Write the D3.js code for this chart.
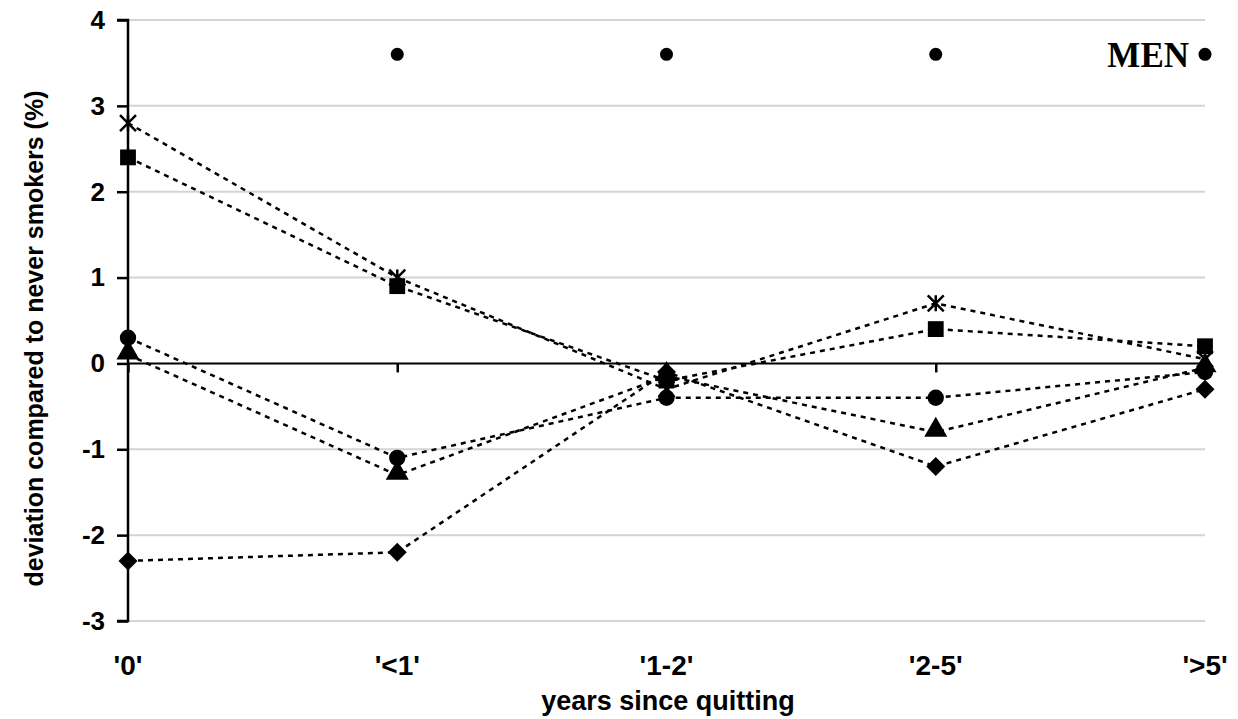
<!DOCTYPE html>
<html>
<head>
<meta charset="utf-8">
<script src="https://cdn.jsdelivr.net/npm/d3@7"></script>
<style>
  body { margin: 0; background: #fff; }
  svg { display: block; }
</style>
</head>
<body>
<div id="chart"></div>
<script>
// categories and series
const categories = ["'0'", "'<1'", "'1-2'", "'2-5'", "'>5'"];
const yTicks = [-3, -2, -1, 0, 1, 2, 3, 4];

const starValues     = [2.8, 1.0, -0.3, 0.7, 0.05];
const squareValues   = [2.4, 0.9, -0.2, 0.4, 0.2];
const circleValues   = [0.3, -1.1, -0.4, -0.4, -0.1];
const triangleValues = [0.1, -1.3, -0.15, -0.8, -0.05];
const diamondValues  = [-2.3, -2.2, -0.1, -1.2, -0.3];
// legend-like dots along the top ("MEN")
const menValues      = [null, 3.6, 3.6, 3.6, 3.6];

const series = [
    {name: "star", values: starValues},
    {name: "square", values: squareValues},
    {name: "circle", values: circleValues},
    {name: "triangle", values: triangleValues},
    {name: "diamond", values: diamondValues}
];

const width = 1238, height = 719;
const margin = {top: 20, right: 33, bottom: 98, left: 128};

const svg = d3.select("#chart").append("svg")
    .attr("width", width)
    .attr("height", height);

const x = d3.scalePoint()
    .domain(categories)
    .range([margin.left, width - margin.right]);

const y = d3.scaleLinear()
    .domain([-3, 4])
    .range([height - margin.bottom, margin.top]);

// gridlines
svg.append("g")
    .selectAll("line")
    .data(yTicks.filter(d => d !== 0))
    .enter().append("line")
    .attr("x1", margin.left)
    .attr("x2", width - margin.right)
    .attr("y1", d => y(d))
    .attr("y2", d => y(d))
    .attr("stroke", "#d4d4d4")
    .attr("stroke-width", 2);

// y axis
const yAxis = svg.append("g")
    .attr("transform", `translate(${margin.left},0)`)
    .call(d3.axisLeft(y).tickValues(yTicks).tickSize(11).tickPadding(12).tickFormat(d => String(d)));
yAxis.select(".domain").attr("stroke", "#000").attr("stroke-width", 2.5)
    .attr("d", `M-11,${y(4)}H0V${y(-3)}H-11`);
yAxis.selectAll(".tick line").attr("stroke", "#000").attr("stroke-width", 2.5);
yAxis.selectAll(".tick text")
    .attr("font-family", "Liberation Sans, Arial, sans-serif")
    .attr("font-weight", "bold")
    .attr("font-size", 26)
    .attr("fill", "#000");

// x axis along zero
const xAxis = svg.append("g")
    .attr("transform", `translate(0,${y(0)})`)
    .call(d3.axisBottom(x).tickSize(9).tickFormat(""));
xAxis.select(".domain").attr("stroke", "#000").attr("stroke-width", 2)
    .attr("d", `M${margin.left},0H${width - margin.right}`);
xAxis.selectAll(".tick line").attr("stroke", "#000").attr("stroke-width", 2.5);

// x category labels at bottom
svg.append("g")
    .selectAll("text")
    .data(categories)
    .enter().append("text")
    .attr("x", d => x(d))
    .attr("y", 675)
    .attr("text-anchor", "middle")
    .attr("font-family", "Liberation Sans, Arial, sans-serif")
    .attr("font-weight", "bold")
    .attr("font-size", 28)
    .text(d => d);

// axis titles
svg.append("text")
    .attr("x", 668)
    .attr("y", 710)
    .attr("text-anchor", "middle")
    .attr("font-family", "Liberation Sans, Arial, sans-serif")
    .attr("font-weight", "bold")
    .attr("font-size", 27)
    .text("years since quitting");

svg.append("text")
    .attr("transform", `translate(43,${(y(4) + y(-3)) / 2 + 18}) rotate(-90)`)
    .attr("text-anchor", "middle")
    .attr("font-family", "Liberation Sans, Arial, sans-serif")
    .attr("font-weight", "bold")
    .attr("font-size", 25)
    .text("deviation compared to never smokers (%)");

// dashed lines
const line = d3.line()
    .defined(d => d.v != null)
    .x(d => x(d.c))
    .y(d => y(d.v));

series.forEach(s => {
    svg.append("path")
        .datum(s.values.map((v, i) => ({c: categories[i], v: v})))
        .attr("fill", "none")
        .attr("stroke", "#000")
        .attr("stroke-width", 2.5)
        .attr("stroke-dasharray", "5,5")
        .attr("d", line);
});

// markers
const symbols = {
    square: d3.symbol().type(d3.symbolSquare).size(250),
    circle: d3.symbol().type(d3.symbolCircle).size(210),
    triangle: d3.symbol().type(d3.symbolTriangle).size(230)
};

series.forEach(s => {
    const g = svg.append("g");
    s.values.forEach((v, i) => {
        const cx = x(categories[i]), cy = y(v);
        if (s.name === "star") {
            const r = 8;
            g.append("path")
                .attr("d", `M${cx - r},${cy - r}L${cx + r},${cy + r}M${cx - r},${cy + r}L${cx + r},${cy - r}M${cx},${cy - r}V${cy + r}`)
                .attr("stroke", "#000")
                .attr("stroke-width", 2.5)
                .attr("fill", "none");
        } else if (s.name === "diamond") {
            const r = 9.5;
            g.append("path")
                .attr("d", `M${cx},${cy - r}L${cx + r},${cy}L${cx},${cy + r}L${cx - r},${cy}Z`)
                .attr("fill", "#000");
        } else {
            g.append("path")
                .attr("d", symbols[s.name]())
                .attr("transform", `translate(${cx},${cy})${s.name === "triangle" ? " translate(0,-2)" : ""}`)
                .attr("fill", "#000");
        }
    });
});

// MEN dots
svg.append("g")
    .selectAll("circle")
    .data(menValues.map((v, i) => ({c: categories[i], v: v})).filter(d => d.v != null))
    .enter().append("circle")
    .attr("cx", d => x(d.c))
    .attr("cy", d => y(d.v))
    .attr("r", 6.5)
    .attr("fill", "#000");

svg.append("text")
    .attr("x", x(categories[4]) - 16)
    .attr("y", y(3.6) + 13)
    .attr("text-anchor", "end")
    .attr("font-family", "Liberation Serif, Times New Roman, serif")
    .attr("font-weight", "bold")
    .attr("font-size", 35)
    .text("MEN");
</script>
</body>
</html>
